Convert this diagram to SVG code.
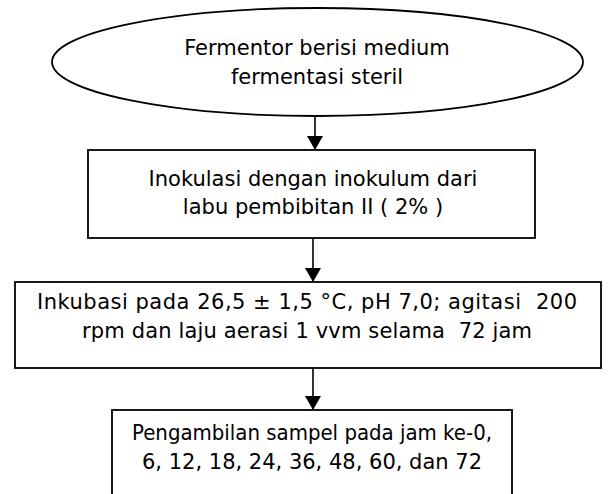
<svg xmlns="http://www.w3.org/2000/svg" width="613" height="494" viewBox="0 0 613 494">
<style>
.shape{fill:#fff;stroke:#000;stroke-width:1.8}
.t{font-family:"DejaVu Sans",Verdana,sans-serif;font-size:21px;fill:#000;text-anchor:middle}
.c{stroke:#000;stroke-width:1.6;fill:none}
</style>
<defs>
<marker id="ah" markerWidth="14" markerHeight="16" refX="14" refY="8" orient="auto" markerUnits="userSpaceOnUse">
<path d="M0,0 L14,8 L0,16 Z" fill="#000"/>
</marker>
</defs>
<g id="n1">
<ellipse class="shape" cx="317.5" cy="62" rx="265.5" ry="54"/>
<text class="t" x="317" y="55">Fermentor berisi medium</text>
<text class="t" x="317" y="84">fermentasi steril</text>
</g>
<g id="n2">
<rect class="shape" x="88" y="150" width="447" height="88"/>
<text class="t" x="313" y="186">Inokulasi dengan inokulum dari</text>
<text class="t" x="313" y="214">labu pembibitan II ( 2% )</text>
</g>
<g id="n3">
<rect class="shape" x="15" y="282" width="586" height="86"/>
<text class="t" x="307" y="309" xml:space="preserve" textLength="540" lengthAdjust="spacing">Inkubasi pada 26,5 ± 1,5 °C, pH 7,0; agitasi  200</text>
<text class="t" x="307" y="338" xml:space="preserve" textLength="450" lengthAdjust="spacing">rpm dan laju aerasi 1 vvm selama  72 jam</text>
</g>
<g id="n4">
<rect class="shape" x="112" y="410" width="400" height="90"/>
<text class="t" x="312" y="440" textLength="360" lengthAdjust="spacingAndGlyphs">Pengambilan sampel pada jam ke-0,</text>
<text class="t" x="312" y="469" textLength="340" lengthAdjust="spacingAndGlyphs">6, 12, 18, 24, 36, 48, 60, dan 72</text>
</g>
<g id="connectors">
<line class="c" x1="315" y1="116" x2="315" y2="150" marker-end="url(#ah)"/>
<line class="c" x1="313" y1="238" x2="313" y2="282" marker-end="url(#ah)"/>
<line class="c" x1="313" y1="368" x2="313" y2="410" marker-end="url(#ah)"/>
</g>
</svg>
